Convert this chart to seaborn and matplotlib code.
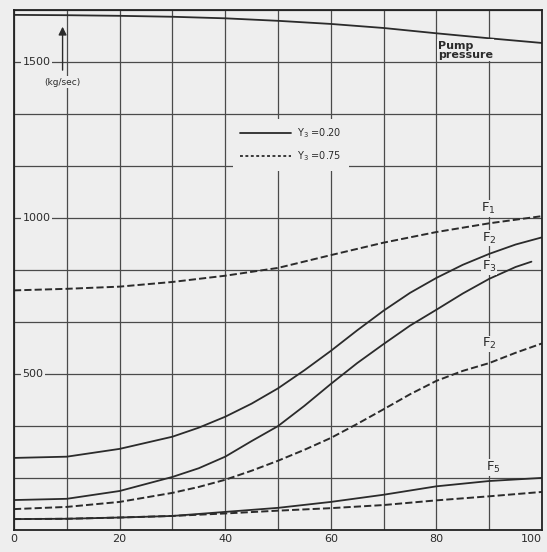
import matplotlib
matplotlib.use('Agg')
import matplotlib.pyplot as plt
import numpy as np
import pandas as pd
import seaborn as sns
from matplotlib.lines import Line2D

sns.set_theme(style='white')
plt.rcParams['font.family'] = ['DejaVu Sans']

BG = '#eeeeee'
INK = '#2b2b2b'
GRID = '#4a4a4a'

# readings from the picture (x in %, y in kg/sec)
x_pts = [0, 10, 20, 30, 40, 50, 60, 70, 80, 90, 100]
pump = [1651, 1650, 1648, 1645, 1640, 1632, 1622, 1609, 1592, 1576, 1561]
f1_dash = [768, 773, 780, 795, 815, 840, 881, 921, 955, 983, 1006]
f5_solid = [35, 36, 40, 45, 58, 71, 90, 113, 140, 157, 167]
f5_dash = [35, 36, 40, 45, 53, 62, 70, 80, 95, 108, 122]

x_fine = [0, 10, 20, 30, 35, 40, 45, 50, 55, 60, 65, 70, 75, 80, 85, 90,
          95, 100]
f2_solid = [231, 235, 260, 299, 328, 363, 405, 454, 512, 574, 640, 703, 760,
            808, 850, 885, 915, 938]
f2_dash = [67, 74, 90, 119, 138, 161, 190, 222, 257, 295, 340, 387, 435, 478,
           510, 535, 568, 598]
x_f3 = [0, 10, 20, 30, 35, 40, 45, 50, 55, 60, 65, 70, 75, 80, 85, 90, 95, 98]
f3_solid = [96, 100, 125, 170, 198, 235, 285, 333, 398, 468, 535, 596, 655,
            706, 758, 805, 843, 860]

y_top = 5000 / 3
y_labels = [500, 1000, 1500]
x_labels = [0, 20, 40, 60, 80, 100]

fig = plt.figure(figsize=(5.47, 5.52), dpi=100, facecolor=BG)
ax = fig.add_axes([14 / 547, 22 / 552, 528 / 547, 520 / 552])
ax.set_facecolor(BG)

solid = dict(color=INK, lw=1.3)
dashed = dict(color=INK, lw=1.4, dashes=(2.2, 1.6))

sns.lineplot(x=x_pts, y=pump, ax=ax, **solid)
sns.lineplot(x=x_fine, y=f2_solid, ax=ax, **solid)
sns.lineplot(x=x_f3, y=f3_solid, ax=ax, **solid)
sns.lineplot(x=x_pts, y=f5_solid, ax=ax, **solid)
sns.lineplot(x=x_pts, y=f1_dash, ax=ax, linestyle='--', **dashed)
sns.lineplot(x=x_fine, y=f2_dash, ax=ax, linestyle='--', **dashed)
sns.lineplot(x=x_pts, y=f5_dash, ax=ax, linestyle='--', **dashed)

ax.set_xlim(0, 100)
ax.set_ylim(0, y_top)
ax.set_xticks(x_labels)
ax.set_xticks(range(10, 100, 20), minor=True)
ax.set_xticklabels([str(v) for v in x_labels], fontsize=8, color=INK)
ax.get_xticklabels()[-1].set_ha('right')
ax.set_yticks(np.linspace(0, y_top, 11))
ax.set_yticklabels([])
ax.tick_params(axis='both', which='both', length=0, pad=3)
ax.grid(True, which='both', color=GRID, lw=0.9)
for s in ax.spines.values():
    s.set_color('#222222')
    s.set_linewidth(1.3)

box = dict(facecolor=BG, edgecolor='none', pad=1.0)
for v in y_labels:
    ax.text(1.6, v, str(v), fontsize=8, color=INK, va='center', ha='left',
            bbox=box)

# unit arrow
ax.annotate('', xy=(9.2, 1622), xytext=(9.2, 1465),
            arrowprops=dict(arrowstyle='-|>', color=INK, lw=1.0,
                            mutation_scale=12))
ax.text(9.2, 1435, '(kg/sec)', fontsize=6.5, color=INK, ha='center',
        va='center', bbox=box)

ax.text(80.3, 1568, 'Pump\npressure', fontsize=8, color=INK, ha='left',
        va='top', linespacing=0.85, fontweight='bold', bbox=box)

curve_labels = [('F$_1$', 88.5, 1030), ('F$_2$', 88.6, 935),
                ('F$_3$', 88.6, 845), ('F$_2$', 88.6, 597),
                ('F$_5$', 89.4, 200)]
for txt, lx, ly in curve_labels:
    ax.text(lx, ly, txt, fontsize=9.5, color=INK, ha='left', va='center',
            bbox=dict(facecolor=BG, edgecolor='none', pad=0.5))

handles = [Line2D([], [], **solid),
           Line2D([], [], color=INK, lw=1.3, linestyle=(0, (1.6, 1.4)))]
leg = ax.legend(handles, ['Y$_3$ =0.20', 'Y$_3$ =0.75'], loc='upper left',
                bbox_to_anchor=(0.405, 0.80), fontsize=7, frameon=True,
                handlelength=5.2, handletextpad=0.6, labelspacing=0.9,
                borderpad=0.8)
leg.get_frame().set_facecolor(BG)
leg.get_frame().set_edgecolor('none')
leg.get_frame().set_alpha(1)
for t in leg.get_texts():
    t.set_color(INK)

fig.savefig('out.png', dpi=100, facecolor=BG)
